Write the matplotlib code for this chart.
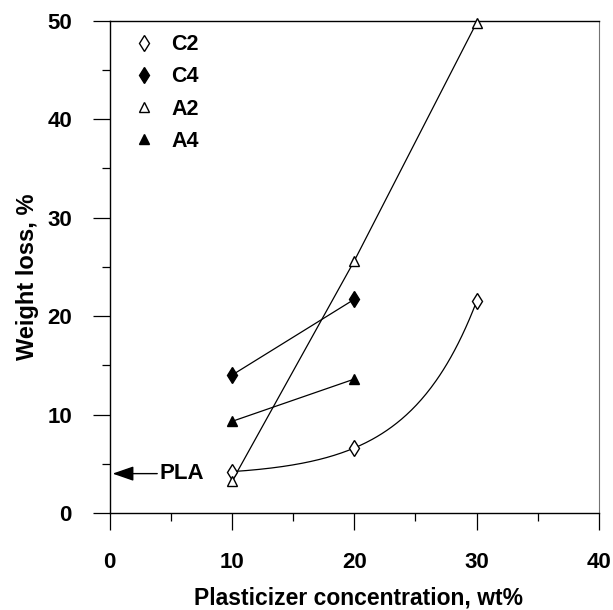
import numpy as np
import matplotlib
matplotlib.use("Agg")
import matplotlib.pyplot as plt
from matplotlib.ticker import MultipleLocator

plt.rcParams['font.family'] = ['Liberation Sans', 'DejaVu Sans']
plt.rcParams['font.weight'] = 'bold'

# Data
conc_c2 = [10, 20, 30]
loss_c2 = [4.2, 6.6, 21.5]
conc_c4 = [10, 20]
loss_c4 = [14.0, 21.7]
conc_a2 = [10, 20, 30]
loss_a2 = [3.2, 25.6, 49.8]
conc_a4 = [10, 20]
loss_a4 = [9.3, 13.6]
pla_loss = 4.0
x_ticks = [0, 10, 20, 30, 40]
y_ticks = [0, 10, 20, 30, 40, 50]

fig = plt.figure(figsize=(6.13, 6.10), dpi=100)
W, H = 613, 610
ax = fig.add_axes([109.5 / W, 1 - 513 / H, (599 - 109.5) / W, (513 - 20.7) / H])

lw = 0.9
# C2 smooth exponential curve through the three points
x1, x2, x3 = conc_c2
y1, y2, y3 = loss_c2
r = (y3 - y2) / (y2 - y1)
c = np.log(r) / (x2 - x1)
b = (y2 - y1) / (np.exp(c * x2) - np.exp(c * x1))
a = y1 - b * np.exp(c * x1)
xs = np.linspace(x1, x3, 200)
ax.plot(xs, a + b * np.exp(c * xs), color='black', lw=lw, clip_on=False)

ax.plot(conc_c4, loss_c4, color='black', lw=lw, clip_on=False)
ax.plot(conc_a2, loss_a2, color='black', lw=lw, clip_on=False)
ax.plot(conc_a4, loss_a4, color='black', lw=lw, clip_on=False)

ms_d = 8
ms_t = 7
ax.plot(conc_c2, loss_c2, 'd', ms=ms_d, mfc='white', mec='black', mew=1, ls='none',
        label='C2', clip_on=False, zorder=5)
ax.plot(conc_c4, loss_c4, 'd', ms=ms_d, mfc='black', mec='black', mew=1, ls='none',
        label='C4', clip_on=False, zorder=5)
ax.plot(conc_a2, loss_a2, '^', ms=ms_t, mfc='white', mec='black', mew=1, ls='none',
        label='A2', clip_on=False, zorder=5)
ax.plot(conc_a4, loss_a4, '^', ms=ms_t, mfc='black', mec='black', mew=1, ls='none',
        label='A4', clip_on=False, zorder=5)

# PLA arrow
ax.annotate('', xy=(0.25, pla_loss), xytext=(3.9, pla_loss),
            arrowprops=dict(arrowstyle='-|>,head_length=1.3,head_width=0.45',
                            color='black', lw=1, shrinkA=0, shrinkB=0))
ax.text(4.05, pla_loss, 'PLA', fontsize=16, fontweight='bold', va='center', ha='left')

ax.set_xlim(0, 40)
ax.set_ylim(0, 50)
ax.set_xticks(x_ticks)
ax.set_yticks(y_ticks)
ax.xaxis.set_minor_locator(MultipleLocator(5))
ax.yaxis.set_minor_locator(MultipleLocator(5))
ax.tick_params(which='major', direction='out', length=12, width=0.9, labelsize=16, pad=16)
ax.tick_params(which='minor', direction='out', length=6, width=0.9)
ax.tick_params(axis='y', which='major', pad=15)
for lab in ax.get_xticklabels() + ax.get_yticklabels():
    lab.set_fontweight('bold')

for s in ['left', 'bottom', 'top']:
    ax.spines[s].set_linewidth(1.0)
ax.spines['right'].set_linewidth(0.8)
ax.spines['right'].set_color('0.45')

ax.set_xlabel('Plasticizer concentration, wt%', fontsize=16.5, fontweight='bold')
ax.set_ylabel('Weight loss, %', fontsize=17, fontweight='bold')
ax.xaxis.set_label_coords(0.508, -0.150)
ax.yaxis.set_label_coords(-0.145, 0.48)

leg = ax.legend(loc='upper left', bbox_to_anchor=(0.03, 0.99), frameon=False,
                fontsize=15.5, handlelength=1.0, handletextpad=0.8, labelspacing=0.52,
                borderaxespad=0)
for t in leg.get_texts():
    t.set_fontweight('bold')

fig.savefig('out.png', dpi=100)
